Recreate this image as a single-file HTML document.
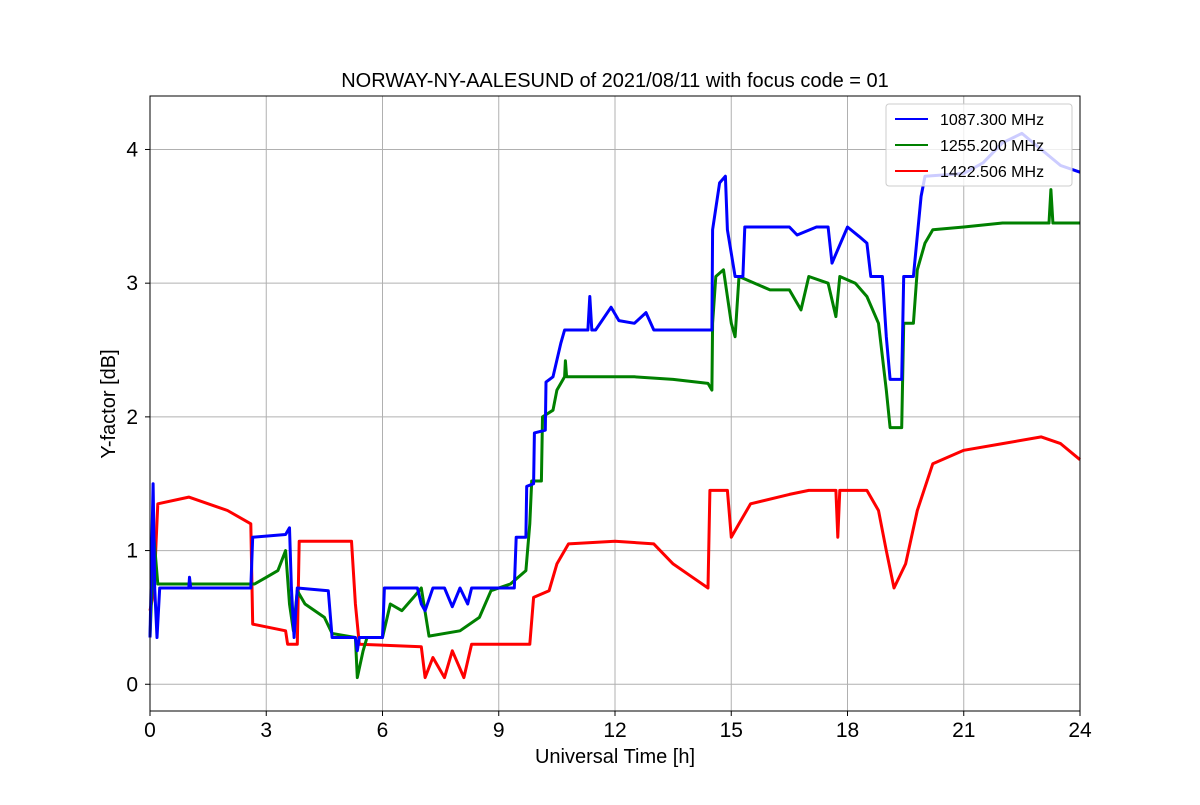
<!DOCTYPE html>
<html><head><meta charset="utf-8"><style>
body{margin:0;background:#fff;}
svg{font-family:"Liberation Sans","DejaVu Sans",sans-serif;}
</style></head><body>
<svg id="chart" width="1200" height="800" xmlns="http://www.w3.org/2000/svg">
<rect width="1200" height="800" fill="#fff"/>
<text x="615" y="87" text-anchor="middle" font-size="20">NORWAY-NY-AALESUND of 2021/08/11 with focus code = 01</text>
<g id="grid"></g>
<g id="series"></g>
<rect x="150" y="96" width="930" height="615" fill="none" stroke="#000" stroke-width="1"/>
<g id="ticks"></g>
<text x="615" y="763" text-anchor="middle" font-size="20">Universal Time [h]</text>
<text x="115" y="404" text-anchor="middle" font-size="20" transform="rotate(-90 115 404)">Y-factor [dB]</text>
<g>
<rect x="886" y="104" width="186" height="82" fill="#fff" fill-opacity="0.8" stroke="#ccc" rx="3"/>
<line x1="895" y1="119" x2="928" y2="119" stroke="blue" stroke-width="2"/>
<text x="940" y="125" font-size="16">1087.300 MHz</text>
<line x1="895" y1="145" x2="928" y2="145" stroke="green" stroke-width="2"/>
<text x="940" y="151" font-size="16">1255.200 MHz</text>
<line x1="895" y1="171" x2="928" y2="171" stroke="red" stroke-width="2"/>
<text x="940" y="177" font-size="16">1422.506 MHz</text>
</g>
</svg>
<script>
const xTicks=[0,3,6,9,12,15,18,21,24];
const yTicks=[0,1,2,3,4];
const blueT=[0,0.08,0.12,0.18,0.25,0.3,1.0,1.02,1.05,2.6,2.65,3.5,3.6,3.65,3.72,3.8,4.6,4.7,5.3,5.35,5.4,6.0,6.05,6.9,7.0,7.1,7.3,7.6,7.8,8.0,8.2,8.3,9.4,9.45,9.7,9.72,9.9,9.92,10.2,10.22,10.4,10.6,10.7,11.3,11.35,11.4,11.5,11.9,12.1,12.5,12.8,13.0,14.5,14.52,14.7,14.85,14.9,15.1,15.3,15.35,16.5,16.7,17.2,17.5,17.6,18.0,18.3,18.5,18.6,18.9,19.0,19.1,19.4,19.45,19.7,19.9,20.0,21.0,21.5,22.0,22.5,23.0,23.5,24];
const blueV=[0.35,1.5,0.72,0.35,0.72,0.72,0.72,0.8,0.72,0.72,1.1,1.12,1.17,0.72,0.35,0.72,0.7,0.35,0.35,0.25,0.35,0.35,0.72,0.72,0.6,0.55,0.72,0.72,0.58,0.72,0.6,0.72,0.72,1.1,1.1,1.48,1.5,1.88,1.9,2.26,2.3,2.55,2.65,2.65,2.9,2.65,2.65,2.82,2.72,2.7,2.78,2.65,2.65,3.4,3.75,3.8,3.4,3.05,3.05,3.42,3.42,3.36,3.42,3.42,3.15,3.42,3.35,3.3,3.05,3.05,2.6,2.28,2.28,3.05,3.05,3.65,3.8,3.82,3.9,4.05,4.12,4.0,3.88,3.83];
const greenT=[0,0.1,0.2,2.6,2.7,3.0,3.3,3.5,3.6,3.7,3.8,4.0,4.5,4.7,5.3,5.35,5.5,5.6,6.0,6.2,6.5,6.8,7.0,7.2,8.0,8.5,8.8,9.3,9.7,9.8,9.85,10.1,10.13,10.4,10.5,10.7,10.72,10.75,12.5,13.5,14.4,14.5,14.52,14.6,14.8,15.0,15.1,15.2,16.0,16.5,16.8,17.0,17.5,17.7,17.8,18.2,18.5,18.8,19.0,19.1,19.4,19.45,19.7,19.8,20.0,20.2,21.0,22.0,23.2,23.25,23.3,24];
const greenV=[0.35,1.1,0.75,0.75,0.75,0.8,0.85,1.0,0.6,0.4,0.7,0.6,0.5,0.38,0.35,0.05,0.25,0.35,0.35,0.6,0.55,0.65,0.72,0.36,0.4,0.5,0.7,0.75,0.85,1.2,1.52,1.52,2.0,2.05,2.2,2.3,2.42,2.3,2.3,2.28,2.25,2.2,2.7,3.05,3.1,2.7,2.6,3.05,2.95,2.95,2.8,3.05,3.0,2.75,3.05,3.0,2.9,2.7,2.2,1.92,1.92,2.7,2.7,3.1,3.3,3.4,3.42,3.45,3.45,3.7,3.45,3.45];
const redT=[0,0.1,0.2,1.0,2.0,2.6,2.65,3.5,3.55,3.8,3.85,5.2,5.3,5.4,7.0,7.1,7.3,7.6,7.8,8.1,8.3,9.8,9.9,10.3,10.5,10.8,12.0,13.0,13.5,14.0,14.4,14.45,14.9,15.0,15.2,15.5,16.5,17.0,17.7,17.75,17.8,18.5,18.8,19.0,19.2,19.5,19.8,20.2,21.0,22.0,23.0,23.5,24];
const redV=[0.55,0.7,1.35,1.4,1.3,1.2,0.45,0.4,0.3,0.3,1.07,1.07,0.6,0.3,0.28,0.05,0.2,0.05,0.25,0.05,0.3,0.3,0.65,0.7,0.9,1.05,1.07,1.05,0.9,0.8,0.72,1.45,1.45,1.1,1.2,1.35,1.42,1.45,1.45,1.1,1.45,1.45,1.3,1.0,0.72,0.9,1.3,1.65,1.75,1.8,1.85,1.8,1.68];

const NS="http://www.w3.org/2000/svg";
const X0=150,X1=1080,YT=96,YB=711,YMIN=-0.2,YMAX=4.4;
function xs(t){return X0+(t/24)*(X1-X0);}
function ys(v){return YB-(v-YMIN)/(YMAX-YMIN)*(YB-YT);}
const grid=document.getElementById('grid'),ticks=document.getElementById('ticks'),ser=document.getElementById('series');
xTicks.forEach(t=>{
  const l=document.createElementNS(NS,'line');
  l.setAttribute('x1',xs(t));l.setAttribute('x2',xs(t));l.setAttribute('y1',YT);l.setAttribute('y2',YB);
  l.setAttribute('stroke','#b0b0b0');l.setAttribute('stroke-width','1');
  
  
  grid.appendChild(l);
  const k=document.createElementNS(NS,'line');
  k.setAttribute('x1',xs(t));k.setAttribute('x2',xs(t));k.setAttribute('y1',YB);k.setAttribute('y2',YB+5);k.setAttribute('stroke','#000');
  
  
  ticks.appendChild(k);
  const tx=document.createElementNS(NS,'text');
  tx.setAttribute('x',xs(t));tx.setAttribute('y',YB+26);tx.setAttribute('text-anchor','middle');tx.setAttribute('font-size','21');
  tx.textContent=t;
  
  
  ticks.appendChild(tx);
});
yTicks.forEach(v=>{
  const l=document.createElementNS(NS,'line');
  l.setAttribute('x1',X0);l.setAttribute('x2',X1);l.setAttribute('y1',ys(v));l.setAttribute('y2',ys(v));
  l.setAttribute('stroke','#b0b0b0');l.setAttribute('stroke-width','1');
  
  
  grid.appendChild(l);
  const k=document.createElementNS(NS,'line');
  k.setAttribute('x1',X0-5);k.setAttribute('x2',X0);k.setAttribute('y1',ys(v));k.setAttribute('y2',ys(v));k.setAttribute('stroke','#000');
  
  
  ticks.appendChild(k);
  const tx=document.createElementNS(NS,'text');
  tx.setAttribute('x',X0-12);tx.setAttribute('y',ys(v)+7);tx.setAttribute('text-anchor','end');tx.setAttribute('font-size','21');
  tx.textContent=v;
  
  
  ticks.appendChild(tx);
});
function draw(T,V,color,name){
  const p=document.createElementNS(NS,'polyline');
  p.setAttribute('points',T.map((t,i)=>xs(t).toFixed(1)+','+ys(V[i]).toFixed(1)).join(' '));
  p.setAttribute('fill','none');p.setAttribute('stroke',color);p.setAttribute('stroke-width','3');p.setAttribute('stroke-linejoin','round');
  
  
  ser.appendChild(p);
}
draw(redT,redV,'red','series-1422');
draw(greenT,greenV,'green','series-1255');
draw(blueT,blueV,'blue','series-1087');
</script>
</body></html>
